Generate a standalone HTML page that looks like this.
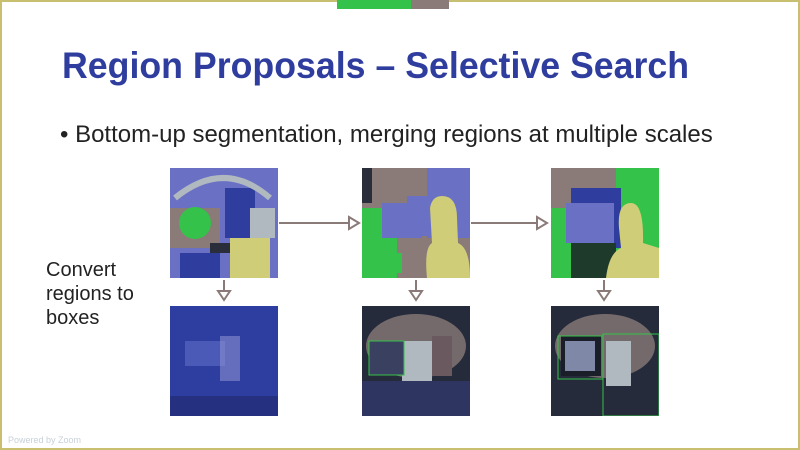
<!DOCTYPE html>
<html><head><meta charset="utf-8"><style>
body{margin:0;width:800px;height:450px;overflow:hidden;background:#fff;font-family:"Liberation Sans",sans-serif;position:relative}
.frame{position:absolute;left:0;top:0;width:796px;height:446px;border:2px solid #c8c070}
.t{position:absolute;white-space:nowrap}
.img{position:absolute;overflow:hidden}
</style></head><body>
<div class="frame"></div>
<div class="t" style="left:337px;top:0;width:74px;height:9px;background:#35c24a"></div>
<div class="t" style="left:411px;top:0;width:38px;height:9px;background:#8a7a78"></div>
<div class="t" style="left:62px;top:45px;font-size:37px;font-weight:bold;color:#2e3d9e;transform:scaleX(0.965);transform-origin:left top">Region Proposals – Selective Search</div>
<div class="t" style="left:60px;top:121px;font-size:24px;color:#222">• Bottom-up segmentation, merging regions at multiple scales</div>
<div class="t" style="left:46px;top:258px;font-size:20px;line-height:24px;color:#222;white-space:normal;width:115px">Convert regions to boxes</div>

<svg class="img" style="left:170px;top:168px" width="108" height="110">
<rect width="108" height="110" fill="#6a70c4"/>
<rect x="0" y="40" width="50" height="40" fill="#8a7a78"/>
<circle cx="25" cy="55" r="16" fill="#35c24a"/>
<rect x="55" y="20" width="30" height="50" fill="#2e3d9e"/>
<rect x="60" y="70" width="40" height="40" fill="#cfcd78"/>
<rect x="10" y="85" width="40" height="25" fill="#2e3d9e"/>
<path d="M5 30 Q54 -10 100 30" stroke="#b0b8c0" stroke-width="6" fill="none"/>
<rect x="80" y="40" width="25" height="30" fill="#b0b8c0"/>
<rect x="40" y="75" width="20" height="10" fill="#2a2e3a"/>
</svg>
<svg class="img" style="left:362px;top:168px" width="108" height="110">
<rect width="108" height="110" fill="#8a7a78"/>
<rect x="65" y="0" width="43" height="70" fill="#6a70c4"/>
<rect x="0" y="0" width="10" height="35" fill="#2a2e3a"/>
<rect x="0" y="40" width="35" height="70" fill="#35c24a"/>
<rect x="20" y="35" width="40" height="35" fill="#6a70c4"/>
<rect x="45" y="28" width="20" height="40" fill="#6a70c4"/>
<path d="M68 40 Q70 28 80 28 Q95 28 95 50 L96 75 Q108 80 108 110 L65 110 Q62 80 70 75 Z" fill="#cfcd78"/>
<rect x="30" y="85" width="10" height="20" fill="#35c24a"/>
</svg>
<svg class="img" style="left:551px;top:168px" width="108" height="110">
<rect width="108" height="110" fill="#35c24a"/>
<rect x="0" y="0" width="65" height="40" fill="#8a7a78"/>
<rect x="20" y="20" width="50" height="60" fill="#2e3d9e"/>
<rect x="15" y="35" width="48" height="40" fill="#6a70c4"/>
<rect x="20" y="75" width="45" height="35" fill="#1e3a2a"/>
<path d="M68 60 Q66 35 80 35 Q93 35 92 75 L108 80 L108 110 L55 110 Q58 85 70 80 Z" fill="#cfcd78"/>
</svg>

<svg class="img" style="left:170px;top:306px" width="108" height="110">
<rect width="108" height="110" fill="#2e3da0"/>
<rect x="15" y="35" width="40" height="25" fill="#5a66c0" opacity=".7"/>
<rect x="50" y="30" width="20" height="45" fill="#8a90d0" opacity=".6"/>
<rect x="0" y="90" width="108" height="20" fill="#253080"/>
</svg>
<svg class="img" style="left:362px;top:306px" width="108" height="110">
<rect width="108" height="110" fill="#252b3a"/>
<ellipse cx="54" cy="40" rx="50" ry="32" fill="#8a7a78" opacity=".8"/>
<rect x="40" y="35" width="30" height="40" fill="#b0b8c0"/>
<rect x="7" y="35" width="35" height="34" fill="#3a4060" stroke="#35c24a" stroke-width="1"/>
<rect x="70" y="30" width="20" height="40" fill="#6a5a60"/>
<rect x="0" y="75" width="108" height="35" fill="#303a70" opacity=".7"/>
</svg>
<svg class="img" style="left:551px;top:306px" width="108" height="110">
<rect width="108" height="110" fill="#252b3a"/>
<ellipse cx="54" cy="40" rx="50" ry="32" fill="#8a7a78" opacity=".8"/>
<rect x="55" y="35" width="25" height="45" fill="#b0b8c0"/>
<rect x="10" y="30" width="40" height="40" fill="#1a1e28"/>
<rect x="14" y="35" width="30" height="30" fill="#8088a8"/>
<rect x="7" y="30" width="45" height="43" fill="none" stroke="#35c24a" stroke-width="1"/>
<rect x="52" y="28" width="56" height="82" fill="none" stroke="#35c24a" stroke-width="1"/>
</svg>

<svg class="t" style="left:0;top:0" width="800" height="450">
<g stroke="#8a7a78" stroke-width="2" fill="#fff">
<line x1="279" y1="223" x2="350" y2="223"/><path d="M349 217 L359 223 L349 229 Z"/>
<line x1="471" y1="223" x2="538" y2="223"/><path d="M537 217 L547 223 L537 229 Z"/>
<line x1="224" y1="280" x2="224" y2="292"/><path d="M218 291 L224 300 L230 291 Z"/>
<line x1="416" y1="280" x2="416" y2="292"/><path d="M410 291 L416 300 L422 291 Z"/>
<line x1="604" y1="280" x2="604" y2="292"/><path d="M598 291 L604 300 L610 291 Z"/>
</g>
</svg>
<div class="t" style="left:8px;top:435px;font-size:9px;color:#c8d0d8">Powered by Zoom</div>
</body></html>
